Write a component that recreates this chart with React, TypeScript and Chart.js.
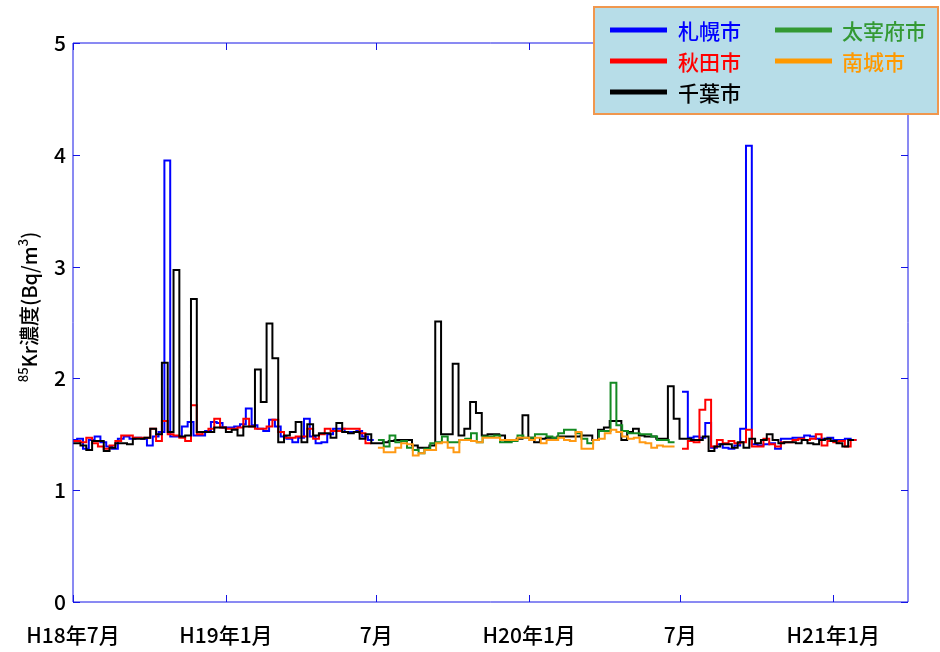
import React, { useEffect, useRef } from 'react';
import { Chart, registerables } from 'chart.js';

Chart.register(...registerables);

// ---- axis / tick data ----
const X_MIN_DATE = '2006-07-01';
const X_MAX_DATE = '2009-04-01';
const xTickDates = ['2006-07-01', '2007-01-01', '2007-07-01', '2008-01-01', '2008-07-01', '2009-01-01'];
const xTickLabels = ['H18年7月', 'H19年1月', '7月', 'H20年1月', '7月', 'H21年1月'];
const yTickValues = [0, 1, 2, 3, 4, 5];
const yTitleMain = 'Kr濃度(Bq/m';
const yTitleIsotope = '85';
const yTitleExp = '3';

// ---- series (weekly samples, value holds for 7 days from each start) ----
const sapporoStart1 = '2006-06-29';
const sapporo1 = [
  1.45, 1.46, 1.37, 1.45, 1.48, 1.43, 1.39, 1.37, 1.46, 1.48,
  1.46, 1.47, 1.46, 1.40, 1.48, 1.52, 3.95, 1.48, 1.48, 1.57,
  1.61, 1.49, 1.49, 1.53, 1.61, 1.60, 1.56, 1.56, 1.57, 1.59,
  1.73, 1.58, 1.55, 1.53, 1.63, 1.57, 1.48, 1.46, 1.43, 1.47,
  1.64, 1.48, 1.42, 1.43, 1.50, 1.55, 1.55, 1.52, 1.52, 1.53,
  1.48, 1.45,
];
const sapporoStart2 = '2008-07-03';
const sapporo2 = [
  1.88, 1.47, 1.48, 1.47, 1.60, 1.38, 1.41, 1.38, 1.37, 1.40,
  1.55, 4.08, 1.41, 1.40, 1.41, 1.42, 1.37, 1.46, 1.46, 1.47,
  1.47, 1.49, 1.48, 1.46, 1.46, 1.47, 1.45, 1.45, 1.46, 1.45,
];

const akitaStart1 = '2006-06-26';
const akita1 = [
  1.44, 1.44, 1.43, 1.47, 1.42, 1.39, 1.37, 1.40, 1.44, 1.49,
  1.49, 1.47, 1.47, 1.47, 1.55, 1.44, 1.62, 1.50, 1.49, 1.47,
  1.44, 1.76, 1.50, 1.52, 1.55, 1.64, 1.56, 1.55, 1.55, 1.56,
  1.64, 1.57, 1.55, 1.55, 1.57, 1.63, 1.52, 1.47, 1.47, 1.48,
  1.48, 1.55, 1.46, 1.50, 1.55, 1.53, 1.53, 1.55, 1.55, 1.55,
  1.51, 1.42,
];
const akitaStart2 = '2008-07-03';
const akita2 = [
  1.37, 1.44, 1.43, 1.72, 1.81, 1.39, 1.45, 1.42, 1.44, 1.42,
  1.43, 1.54, 1.39, 1.39, 1.46, 1.41, 1.39, 1.43, 1.43, 1.45,
  1.46, 1.45, 1.46, 1.50, 1.40, 1.44, 1.43, 1.44, 1.39, 1.45,
];

const chibaStart = '2006-06-26';
const chiba = [
  1.42, 1.42, 1.40, 1.36, 1.44, 1.44, 1.35, 1.38, 1.42, 1.42,
  1.41, 1.46, 1.46, 1.47, 1.55, 1.50, 2.14, 1.52, 2.97, 1.48,
  1.49, 2.71, 1.52, 1.52, 1.52, 1.56, 1.56, 1.52, 1.54, 1.49,
  1.57, 1.57, 2.08, 1.79, 2.49, 2.18, 1.43, 1.49, 1.52, 1.61,
  1.43, 1.59, 1.49, 1.51, 1.51, 1.47, 1.60, 1.52, 1.51, 1.52,
  1.46, 1.50, 1.42, 1.42, 1.43, 1.44, 1.45, 1.45, 1.45, 1.40,
  1.38, 1.38, 1.40, 2.51, 1.50, 1.50, 2.13, 1.49, 1.55, 1.79,
  1.69, 1.49, 1.50, 1.50, 1.49, 1.44, 1.45, 1.46, 1.67, 1.47,
  1.43, 1.46, 1.47, 1.47, 1.48, 1.48, 1.48, 1.48, 1.49, 1.49,
  1.45, 1.54, 1.56, 1.62, 1.62, 1.45, 1.52, 1.55, 1.49, 1.48,
  1.48, 1.46, 1.46, 1.93, 1.64, 1.46, 1.46, 1.45, 1.45, 1.48,
  1.35, 1.39, 1.41, 1.41, 1.38, 1.43, 1.38, 1.46, 1.42, 1.45,
  1.50, 1.45, 1.42, 1.43, 1.43, 1.42, 1.45, 1.42, 1.41, 1.45,
  1.46, 1.44, 1.42, 1.39, 1.45,
];

const dazaifuStart = '2007-07-03';
const dazaifu = [
  1.45, 1.39, 1.49, 1.43, 1.44, 1.38, 1.36, 1.33, 1.37, 1.42,
  1.43, 1.48, 1.43, 1.43, 1.45, 1.46, 1.51, 1.43, 1.48, 1.48,
  1.49, 1.43, 1.43, 1.44, 1.49, 1.47, 1.47, 1.50, 1.50, 1.48,
  1.47, 1.51, 1.54, 1.54, 1.51, 1.46, 1.42, 1.45, 1.53, 1.53,
  1.96, 1.58, 1.53, 1.51, 1.51, 1.50, 1.50, 1.48, 1.45, 1.45,
  1.43,
];

const nanjoStart = '2007-07-03';
const nanjo = [
  1.38, 1.34, 1.34, 1.38, 1.42, 1.41, 1.31, 1.33, 1.36, 1.36,
  1.42, 1.43, 1.38, 1.34, 1.45, 1.45, 1.44, 1.43, 1.47, 1.47,
  1.47, 1.45, 1.45, 1.45, 1.47, 1.47, 1.45, 1.47, 1.42, 1.45,
  1.45, 1.47, 1.45, 1.44, 1.52, 1.37, 1.37, 1.45, 1.46, 1.51,
  1.54, 1.52, 1.48, 1.46, 1.47, 1.43, 1.42, 1.38, 1.40, 1.39,
  1.39,
];

const seriesNames = ['札幌市', '秋田市', '千葉市', '太宰府市', '南城市'];
const lineColors = ['#0000ff', '#ff0000', '#000000', '#138a22', '#ff9a14'];
const legendLineColors = ['#0000ff', '#ff0000', '#000000', '#339933', '#ff9900'];
const legendTextColors = ['#0000ff', '#ff0000', '#000000', '#339933', '#ff9900'];

// ---- helpers ----
const ORIGIN = Date.UTC(2006, 6, 1);
const dayOf = (iso: string) => (Date.parse(iso + 'T00:00:00Z') - ORIGIN) / 86400000;
const STEP_DAYS = 7;

type Pt = { x: number; y: number | null };
function stepPoints(start: string, values: number[]): Pt[] {
  const d0 = dayOf(start);
  const pts: Pt[] = values.map((v, i) => ({ x: d0 + STEP_DAYS * i, y: v }));
  pts.push({ x: d0 + STEP_DAYS * values.length, y: values[values.length - 1] });
  return pts;
}
function joinSegments(a: Pt[], b: Pt[]): Pt[] {
  const gapX = (a[a.length - 1].x + b[0].x) / 2;
  return [...a, { x: gapX, y: null }, ...b];
}

const FONT = '"Noto Sans CJK JP", "Noto Sans", sans-serif';
const AXIS_COLOR = '#1414e6';

const framePlugin = {
  id: 'frameTicks',
  afterDatasetsDraw(chart: any) {
    const { ctx, chartArea: a, scales } = chart;
    ctx.save();
    ctx.strokeStyle = AXIS_COLOR;
    ctx.lineWidth = 1;
    ctx.beginPath();
    ctx.rect(a.left, a.top, a.right - a.left, a.bottom - a.top);
    const tl = 7;
    for (const t of scales.x.ticks) {
      const px = Math.round(scales.x.getPixelForValue(t.value)) + 0.5;
      ctx.moveTo(px, a.bottom);
      ctx.lineTo(px, a.bottom - tl);
      ctx.moveTo(px, a.top);
      ctx.lineTo(px, a.top + tl);
    }
    for (const t of scales.y.ticks) {
      const py = Math.round(scales.y.getPixelForValue(t.value)) + 0.5;
      ctx.moveTo(a.left, py);
      ctx.lineTo(a.left + tl, py);
      ctx.moveTo(a.right, py);
      ctx.lineTo(a.right - tl, py);
    }
    ctx.stroke();
    ctx.restore();
  },
};

const titlePlugin = {
  id: 'yTitle',
  afterDraw(chart: any) {
    const { ctx } = chart;
    const mainFont = `500 20px ${FONT}`;
    const supFont = `500 13px ${FONT}`;
    ctx.save();
    ctx.font = mainFont;
    const wMain = ctx.measureText(yTitleMain).width;
    const wClose = ctx.measureText(')').width;
    ctx.font = supFont;
    const wIso = ctx.measureText(yTitleIsotope).width;
    const wExp = ctx.measureText(yTitleExp).width;
    const total = wIso + wMain + wExp + wClose;
    ctx.translate(29, 307);
    ctx.rotate(-Math.PI / 2);
    ctx.fillStyle = '#000';
    ctx.textBaseline = 'middle';
    ctx.textAlign = 'left';
    let x = -total / 2;
    ctx.font = supFont;
    ctx.fillText(yTitleIsotope, x, -6);
    x += wIso;
    ctx.font = mainFont;
    ctx.fillText(yTitleMain, x, 0);
    x += wMain;
    ctx.font = supFont;
    ctx.fillText(yTitleExp, x, -6);
    x += wExp;
    ctx.font = mainFont;
    ctx.fillText(')', x, 0);
    ctx.restore();
  },
};

const legendPlugin = {
  id: 'boxLegend',
  afterDraw(chart: any) {
    const { ctx } = chart;
    ctx.save();
    ctx.fillStyle = '#b7dde8';
    ctx.fillRect(594, 7, 344, 107);
    ctx.strokeStyle = '#f0974e';
    ctx.lineWidth = 2;
    ctx.strokeRect(594, 7, 344, 107);
    const cols = [{ lx: 610, lw: 57, tx: 678 }, { lx: 775, lw: 57, tx: 842 }];
    const rows = [30, 61, 92];
    const placement = [[0, 0], [0, 1], [0, 2], [1, 0], [1, 1]];
    ctx.font = `500 21px ${FONT}`;
    ctx.textBaseline = 'middle';
    ctx.textAlign = 'left';
    seriesNames.forEach((name, i) => {
      const [c, r] = placement[i];
      const col = cols[c];
      const y = rows[r];
      ctx.strokeStyle = legendLineColors[i];
      ctx.lineWidth = 5;
      ctx.beginPath();
      ctx.moveTo(col.lx, y);
      ctx.lineTo(col.lx + col.lw, y);
      ctx.stroke();
      ctx.fillStyle = legendTextColors[i];
      ctx.fillText(name, col.tx, y + 1);
    });
    ctx.restore();
  },
};

export default function App() {
  const ref = useRef<HTMLCanvasElement | null>(null);
  useEffect(() => {
    if (!ref.current) return;
    const seriesData: Pt[][] = [
      joinSegments(stepPoints(sapporoStart1, sapporo1), stepPoints(sapporoStart2, sapporo2)),
      joinSegments(stepPoints(akitaStart1, akita1), stepPoints(akitaStart2, akita2)),
      stepPoints(chibaStart, chiba),
      stepPoints(dazaifuStart, dazaifu),
      stepPoints(nanjoStart, nanjo),
    ];
    const orders = [5, 4, 3, 2, 1];
    const chart = new Chart(ref.current, {
      type: 'line',
      data: {
        datasets: seriesData.map((d, i) => ({
          label: seriesNames[i],
          data: d,
          borderColor: lineColors[i],
          backgroundColor: lineColors[i],
          borderWidth: 2,
          stepped: 'before' as const,
          pointRadius: 0,
          pointHoverRadius: 0,
          fill: false,
          spanGaps: false,
          order: orders[i],
        })),
      },
      options: {
        responsive: false,
        animation: false,
        events: [],
        layout: { padding: { top: 43, right: 32, left: 0, bottom: 0 } },
        plugins: { legend: { display: false }, tooltip: { enabled: false } },
        scales: {
          x: {
            type: 'linear',
            min: dayOf(X_MIN_DATE),
            max: dayOf(X_MAX_DATE),
            afterBuildTicks: (s: any) => {
              s.ticks = xTickDates.map((d) => ({ value: dayOf(d) }));
            },
            afterFit: (s: any) => {
              s.height = 50;
            },
            grid: { display: false, drawTicks: false },
            border: { display: false },
            ticks: {
              autoSkip: false,
              maxRotation: 0,
              minRotation: 0,
              padding: 20,
              color: '#000',
              font: { family: FONT, size: 21, weight: '500' },
              callback: (_v: any, i: number) => xTickLabels[i],
            },
          },
          y: {
            type: 'linear',
            min: 0,
            max: 5,
            afterBuildTicks: (s: any) => {
              s.ticks = yTickValues.map((v) => ({ value: v }));
            },
            afterFit: (s: any) => {
              s.width = 73;
            },
            grid: { display: false, drawTicks: false },
            border: { display: false },
            ticks: {
              padding: 7,
              color: '#000',
              font: { family: FONT, size: 21, weight: '500' },
              callback: (v: any) => String(v),
            },
          },
        },
      },
      plugins: [framePlugin, titlePlugin, legendPlugin],
    });
    return () => chart.destroy();
  }, []);
  return (
    <canvas
      ref={ref}
      width={940}
      height={652}
      style={{ position: 'fixed', left: 0, top: 0, width: 940, height: 652, background: '#fff' }}
    />
  );
}
